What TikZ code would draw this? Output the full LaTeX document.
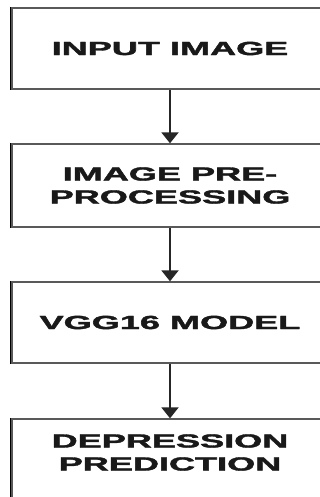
\documentclass[tikz,border=0pt]{standalone}
\usepackage{fontspec}
\setmainfont[BoldFeatures={FakeBold=1.6}]{Liberation Sans}
\usetikzlibrary{arrows.meta}
\newcommand{\wide}[1]{\scalebox{1.9}[1]{#1}}
\tikzset{
  box/.style={draw=black!65, line width=1.3pt, minimum width=316pt, inner sep=0pt, fill=white,
    append after command={\pgfextra{\draw[black, line width=3pt] (\tikzlastnode.north west) -- (\tikzlastnode.south west);}}},
  lab/.style={align=center, inner sep=0pt, font=\fontsize{19}{23}\selectfont\bfseries, text=black!90},
  arr/.style={draw=black!85, line width=2pt, -{Triangle[width=17pt,length=11pt]}}
}
\begin{document}
\begin{tikzpicture}[x=1pt,y=1pt]
\path[use as bounding box, clip] (0,0) rectangle (320,497);
\fill[white] (0,0) rectangle (320,497);
\node[box, minimum height=81pt, lab] (b1) at (170,448.5) {\wide{INPUT IMAGE}};
\node[box, minimum height=83pt, lab] (b2) at (170,311.5) {\wide{IMAGE PRE-}\\\wide{PROCESSING}};
\node[box, minimum height=81pt, lab] (b3) at (170,174.5) {\wide{VGG16 MODEL}};
\node[box, minimum height=88pt] (b4) at (170,34) {};
\node[lab] (t4) at (170,44.5) {\wide{DEPRESSION}\\\wide{PREDICTION}};
\draw[arr] (b1.south) -- (b2.north);
\draw[arr] (b2.south) -- (b3.north);
\draw[arr] (b3.south) -- (b4.north);
\end{tikzpicture}
\end{document}
